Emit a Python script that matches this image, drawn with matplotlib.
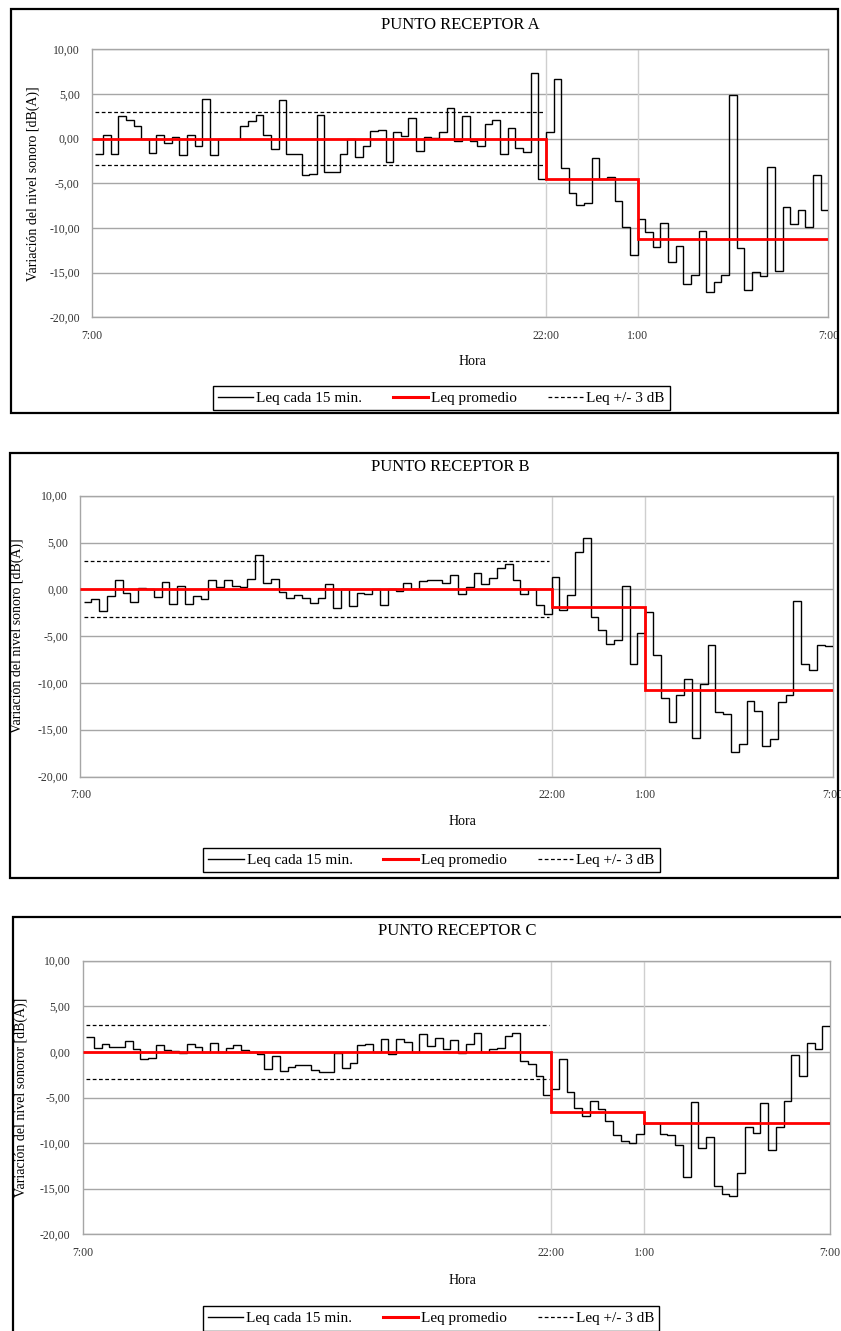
from matplotlib import pyplot
from matplotlib.patches import Rectangle
from matplotlib.lines import Line2D
import numpy as np

pyplot.rcParams['font.family'] = ['Liberation Serif', 'DejaVu Serif']

W, H = 841, 1331

hora_labels = ['7:00', '22:00', '1:00', '7:00']
leyenda = ['Leq cada 15 min.', 'Leq promedio', 'Leq +/- 3 dB']
y_ticks = [-20, -15, -10, -5, 0, 5, 10]

# Leq cada 15 min (dB relativos al promedio diurno)
# tramos: dia 7-22h, noche 22-1h, noche 1-7h
a_dia = [-1.68, 0.45, -1.68, 2.5, 2.05, 1.38, 0, -1.57, 0.45, -0.52,
         0.22, -1.8, 0.45, -0.78, 4.4, -1.8, 0, 0, 0, 1.45,
         2.0, 2.6, 0.45, -1.2, 4.3, -1.68, -1.68, -4.07, -3.95, 2.6,
         -3.73, -3.73, -1.68, 0, -2.05, -0.78, 0.82, 0.93, -2.65, 0.78,
         0.34, 2.28, -1.34, 0.22, 0.07, 0.71, 3.4, -0.3, 2.57, -0.3,
         -0.78, 1.68, 2.13, -1.68, 1.23, -1.08, -1.46, 7.35, -4.55]
a_noche1 = [0.71, 6.64, -3.25, -6.08, -7.46, -7.24, -2.13, -4.55, -4.25, -6.98, -9.85, -13.0]
a_noche2 = [-9.03, -10.4, -12.1, -9.48, -13.77, -11.98, -16.27, -15.26, -10.3, -17.2,
            -16.08, -15.3, 4.85, -12.28, -17.0, -14.9, -15.4, -3.17, -14.8, -7.69,
            -9.51, -7.95, -9.93, -4.07, -7.99]
a_promedio = [0.0, -4.55, -11.23]

b_dia = [-1.32, -1.07, -2.35, -0.75, 0.96, -0.39, -1.35, 0.14, 0, -0.85,
         0.82, -1.57, 0.36, -1.57, -0.68, -1.0, 0.96, 0.25, 1.03, 0.39,
         0.25, 1.07, 3.63, 0.71, 1.14, -0.28, -0.96, -0.57, -0.96, -1.42,
         -0.96, 0.57, -2.0, 0, -1.78, -0.43, -0.53, 0, -1.64, 0,
         -0.14, 0.71, 0, 0.85, 0.96, 0.96, 0.71, 1.49, -0.53, 0.25,
         1.74, 0.6, 1.17, 2.28, 2.74, 0.96, -0.53, 0, -1.67, -2.6]
b_noche1 = [1.35, -2.2, -0.64, 4.0, 5.5, -2.92, -4.38, -5.84, -5.4, 0.39, -7.97, -4.7]
b_noche2 = [-2.46, -7.05, -11.6, -14.2, -11.25, -9.57, -15.9, -10.07, -5.98, -13.06,
            -13.35, -17.4, -16.48, -11.96, -13.02, -16.73, -16.0, -12.03, -11.28, -1.21,
            -7.97, -8.58, -5.98, -6.09]
b_promedio = [0.0, -1.92, -10.75]

c_dia = [1.61, 0.4, 0.88, 0.58, 0.58, 1.17, 0.29, -0.77, -0.62, 0.73,
         0.18, 0.15, -0.15, 0.88, 0.55, 0, 0.99, 0, 0.44, 0.73,
         0.18, 0, -0.26, -1.9, -0.4, -2.12, -1.68, -1.42, -1.42, -2.0,
         -2.23, -2.23, -0.11, -1.79, -1.2, 0.73, 0.88, 0, 1.42, -0.26,
         1.46, 1.09, 0, 1.93, 0.66, 1.57, 0.29, 1.31, -0.15, 0.88,
         2.12, 0, 0.29, 0.44, 1.75, 2.12, -0.95, -1.31, -2.66, -4.78]
c_noche1 = [-4.05, -0.8, -4.38, -6.13, -7.04, -5.36, -6.28, -7.59, -9.12, -9.74, -9.96, -8.98]
c_noche2 = [-7.81, -7.81, -8.98, -9.12, -10.18, -13.72, -5.47, -10.51, -9.38, -14.71,
            -15.58, -15.77, -13.25, -8.21, -8.87, -5.55, -10.8, -8.18, -5.33, -0.36,
            -2.63, 0.99, 0.33, 2.81]
c_promedio = [0.0, -6.64, -7.81]

GRID = '#a6a6a6'


def px(l, t, r, b):
    '''pixel box -> figure fraction rect'''
    return [l / W, 1 - b / H, (r - l) / W, (b - t) / H]


def do_panel(fig, box, area, title, title_x, title_y, ylabel, ylabel_x, hora_x, hora_y,
             leg_box, dia, noche1, noche2, promedio):
    fig.patches.append(Rectangle((box[0] / W, 1 - box[3] / H), (box[2] - box[0]) / W,
                                 (box[3] - box[1]) / H, transform=fig.transFigure,
                                 fill=False, edgecolor='black', lw=1.6, clip_on=False))
    ax = fig.add_axes(px(*area))
    values = np.array(dia + noche1 + noche2)
    n_dia = len(dia)
    n_mid = n_dia + len(noche1)
    n = len(values)
    x0 = -0.4

    ax.stairs(values, np.arange(n + 1), baseline=None, color='black', lw=1.0, zorder=3)
    ax.stairs(promedio, [x0, n_dia, n_mid, n], baseline=None, color='#ff0000', lw=2.0, zorder=4)
    ax.hlines([3, -3], 0, n_dia - 0.3, colors='black', linestyles=(0, (3, 2)), lw=0.9, zorder=3)
    for xv in (n_dia, n_mid):
        ax.axvline(xv, color='#cfcfcf', lw=1.0, zorder=1)

    ax.set_xlim(x0, n)
    ax.set_ylim(-20, 10)
    ax.set_yticks(y_ticks)
    ax.set_yticklabels(['{:.2f}'.format(v).replace('.', ',') for v in y_ticks])
    ax.set_xticks([x0, n_dia, n_mid, n])
    ax.set_xticklabels(hora_labels)
    ax.tick_params(length=0, labelsize=8.5, colors='#333333')
    ax.tick_params(axis='y', pad=9)
    ax.tick_params(axis='x', pad=9)
    ax.yaxis.grid(True, color=GRID, lw=1.0, zorder=0)
    ax.set_axisbelow(True)
    for s in ax.spines.values():
        s.set_color(GRID)
        s.set_linewidth(1.0)

    fig.text(title_x / W, 1 - title_y / H, title, ha='center', va='center', fontsize=12)
    fig.text(hora_x / W, 1 - hora_y / H, 'Hora', ha='center', va='center', fontsize=10)
    fig.text(ylabel_x / W, 1 - (area[1] + area[3]) / 2 / H, ylabel, rotation=90,
             ha='center', va='center', fontsize=10)

    handles = [Line2D([], [], color='black', lw=1.0),
               Line2D([], [], color='#ff0000', lw=2.2),
               Line2D([], [], color='black', lw=0.9, linestyle=(0, (3, 2)))]
    cx = (leg_box[0] + leg_box[2]) / 2 / W
    cy = 1 - (leg_box[1] + leg_box[3]) / 2 / H
    leg = fig.legend(handles, leyenda, loc='center', bbox_to_anchor=(cx, cy), ncol=3,
                     fontsize=11, frameon=True, fancybox=False, edgecolor='black',
                     handlelength=2.3, handletextpad=0.2, columnspacing=2.0,
                     borderpad=0.35, framealpha=1)
    leg.get_frame().set_linewidth(1.0)
    return ax


fig = pyplot.figure(figsize=(W / 100, H / 100), dpi=100)

do_panel(fig, (10.7, 9, 838, 413), (92.3, 49.3, 828.4, 317.3), 'PUNTO RECEPTOR A', 460, 25,
         'Variación del nivel sonoro [dB(A)]', 33, 472, 361.7, (208, 386, 674.5, 410),
         a_dia, a_noche1, a_noche2, a_promedio)
do_panel(fig, (9.7, 452.7, 838, 878.3), (80.4, 495.7, 832.5, 776.5), 'PUNTO RECEPTOR B', 450, 466.7,
         'Variación del nivel sonoro [dB(A)]', 17, 462, 821.7, (186, 847.3, 676.7, 873.3),
         b_dia, b_noche1, b_noche2, b_promedio)
do_panel(fig, (13.4, 916.7, 850, 1345), (83.1, 960.7, 830, 1234.3), 'PUNTO RECEPTOR C', 457, 930.7,
         'Variación del nivel sonoror [dB(A)]', 21, 462, 1280.7, (187.7, 1306, 674.5, 1331),
         c_dia, c_noche1, c_noche2, c_promedio)

pyplot.savefig('out.png', dpi=100)
